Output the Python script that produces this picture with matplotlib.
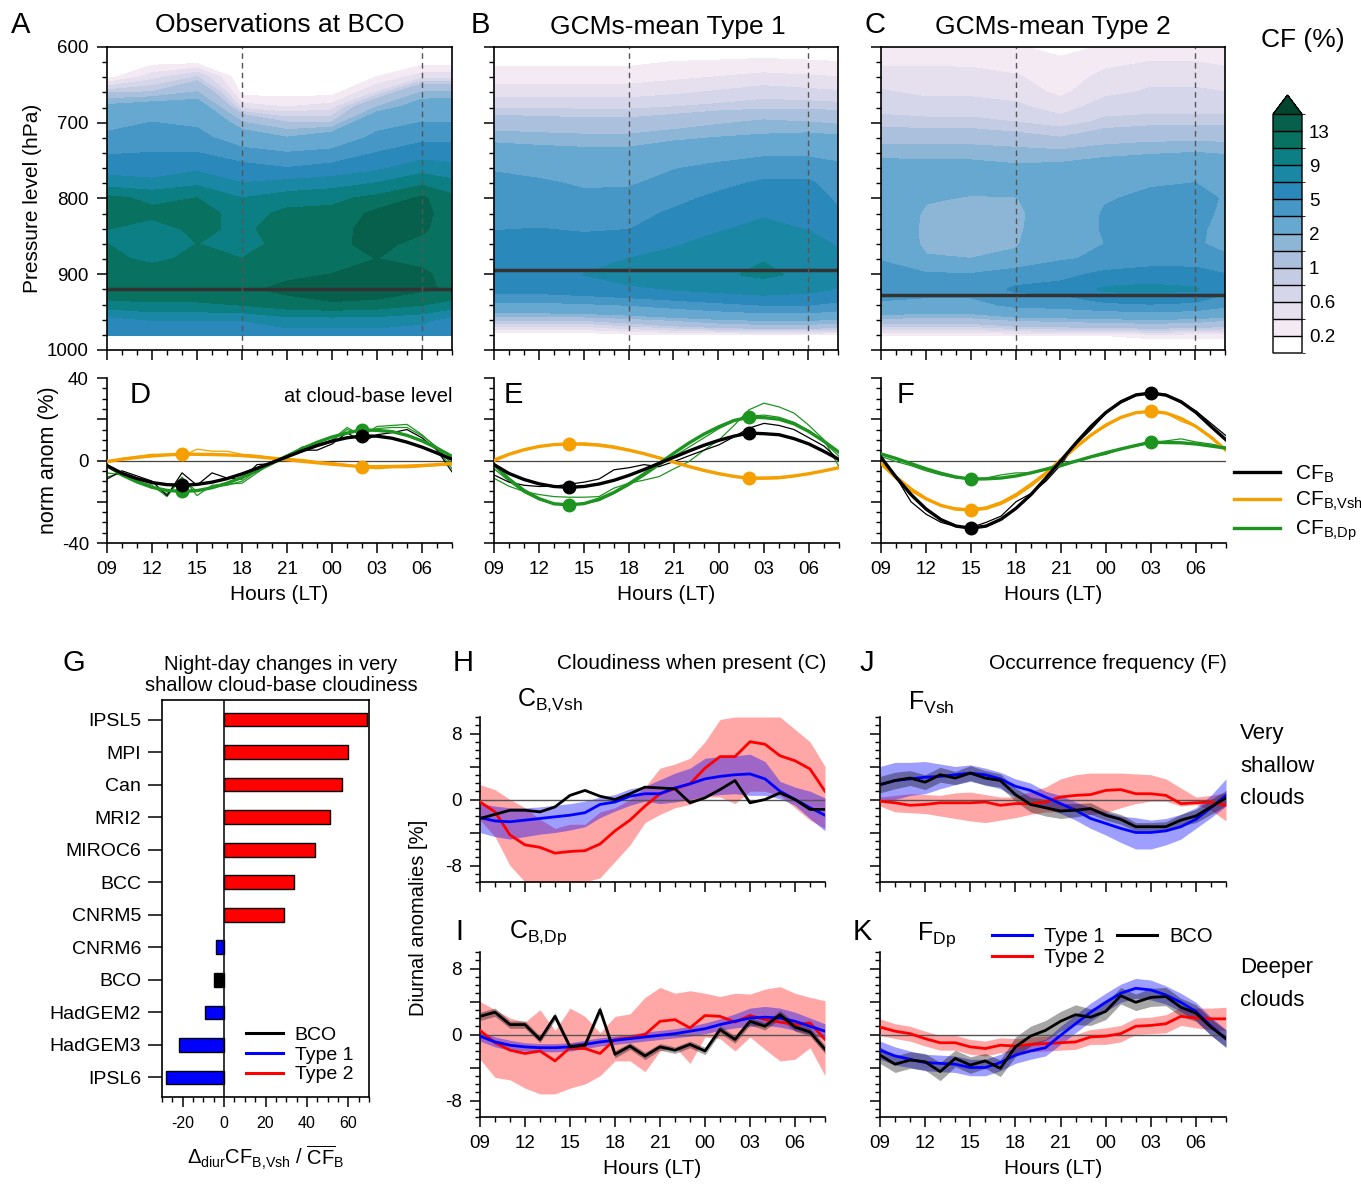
import numpy as np
import matplotlib
matplotlib.use('Agg')
import matplotlib.pyplot as plt
from matplotlib.colors import ListedColormap, BoundaryNorm
from matplotlib.ticker import MultipleLocator
from matplotlib.lines import Line2D

plt.rcParams['font.family'] = ['Liberation Sans', 'DejaVu Sans']
plt.rcParams['mathtext.fontset'] = 'custom'
plt.rcParams['mathtext.rm'] = 'Liberation Sans'
plt.rcParams['mathtext.it'] = 'Liberation Sans:italic'
plt.rcParams['mathtext.default'] = 'regular'
plt.rcParams['axes.unicode_minus'] = False

# ---------------- DATA ----------------
nan = np.nan
hours = [9, 10, 11, 12, 13, 14, 15, 16, 17, 18, 19, 20, 21, 22, 23, 24, 25, 26, 27, 28, 29, 30, 31, 32]
hour_ticks = [9, 12, 15, 18, 21, 24, 27, 30]
hour_labels = ['09', '12', '15', '18', '21', '00', '03', '06']

# contour panels (columns = hours_c, rows = plev)
hours_c = [9, 12, 15, 18, 21, 24, 27, 30, 32]
plev = [600, 620, 640, 660, 680, 700, 720, 740, 760, 780, 800, 820, 840, 860, 880, 900, 920, 940, 960, 980, 1000]
cf_levels = [0, 0.2, 0.4, 0.6, 0.8, 1, 1.5, 2, 3.5, 5, 7, 9, 11, 13, 15]
cf_ticks = [0.2, 0.6, 1, 2, 5, 9, 13]
cf_ticklabels = ['0.2', '0.6', '1', '2', '5', '9', '13']

obs_cols = [
    [0, 0, 0.1, 0.9, 2.2, 3, 3.8, 4.8, 6, 8, 11.5, 11.5, 11, 11, 11.5, 12.3, 12.8, 10, 6, 5, nan],
    [0, 0.1, 0.5, 1.0, 2.5, 3.5, 4.2, 5, 5.8, 7.5, 10.5, 11.5, 10, 9.8, 10.5, 12, 12.8, 10.5, 7, 6, nan],
    [0, 0.1, 0.8, 1.5, 2.5, 3.2, 4, 5, 6.5, 8.5, 11, 12, 11.5, 11, 11.5, 12.3, 12.8, 10.5, 7, 6, nan],
    [0, 0, 0, 0.1, 0.5, 1.5, 2.5, 4, 5.5, 7, 9, 10, 10.5, 9.5, 11, 12, 12.5, 11, 7, 5.5, nan],
    [0, 0, 0, 0.1, 0.4, 1, 2, 3.5, 5, 7.5, 10, 11.5, 12, 12.3, 12, 12.5, 13.5, 12, 8, 6, nan],
    [0, 0, 0, 0.1, 0.5, 1, 2.5, 3.8, 5.5, 8, 10.5, 11.5, 12, 12.3, 12.2, 13, 14.5, 12.5, 8, 6, nan],
    [0, 0, 0.2, 0.6, 1.5, 3, 3.8, 5, 6.5, 9, 11.5, 13.5, 14, 13.8, 13, 13.5, 14.5, 12, 8, 6, nan],
    [0, 0.1, 0.5, 1.5, 2.5, 3.5, 4.5, 6, 8, 10.5, 13.3, 13.8, 13.5, 12, 12.5, 13.3, 13.2, 11, 7.5, 5.5, nan],
    [0, 0.1, 0.5, 1.5, 2.7, 3.5, 4.5, 6, 7.5, 9.5, 11.5, 11.5, 11, 11, 11.5, 12.3, 12.8, 10, 6, 5, nan],
]
type1_cols = [
    [0, 0.15, 0.3, 0.5, 0.75, 1.2, 1.7, 2.5, 3.3, 4, 4.3, 4.7, 4.9, 5.5, 6, 6.5, 5.5, 3, 1, 0, 0],
    [0, 0.15, 0.3, 0.5, 0.75, 1.15, 1.65, 2.3, 3.0, 3.7, 4.2, 4.6, 5, 5.6, 6.2, 6.6, 5.6, 3, 1, 0, 0],
    [0, 0.15, 0.3, 0.5, 0.75, 1.1, 1.6, 2.2, 2.8, 3.3, 3.8, 4.3, 4.8, 5.5, 6.5, 7.0, 6, 3.2, 1, 0, 0],
    [0, 0.15, 0.3, 0.5, 0.75, 1.1, 1.6, 2.2, 2.8, 3.3, 4, 4.5, 4.9, 6, 7, 8, 6.5, 3.5, 1.2, 0.1, 0],
    [0, 0.2, 0.35, 0.55, 0.8, 1.2, 1.8, 2.6, 3.4, 4, 4.6, 5.2, 6, 6.8, 7.5, 8.3, 7, 4, 1.5, 0.1, 0],
    [0, 0.22, 0.4, 0.62, 0.85, 1.4, 2, 2.9, 3.8, 4.6, 5.3, 6, 6.8, 7.5, 8.2, 8.7, 7.5, 4.5, 1.8, 0.1, 0],
    [0, 0.25, 0.45, 0.7, 0.9, 1.6, 2.1, 3.2, 4.2, 5.2, 6, 6.8, 7.4, 8.2, 8.9, 9.3, 8, 5, 2, 0.1, 0],
    [0, 0.22, 0.42, 0.65, 0.9, 1.5, 2.2, 3.2, 4.2, 5.2, 5.8, 6.3, 6.9, 7.6, 8.2, 8.6, 7.5, 5, 2, 0.1, 0],
    [0, 0.2, 0.4, 0.62, 0.88, 1.4, 2.1, 3, 3.8, 4.3, 4.7, 5.2, 6, 6.8, 7.4, 7.8, 6.8, 4.5, 1.8, 0.1, 0],
]
type2_cols = [
    [0.25, 0.35, 0.5, 0.62, 0.7, 0.9, 1.2, 1.8, 2.3, 2.7, 3.0, 3.2, 3.3, 3.3, 3.4, 4.0, 4.2, 3.2, 1.2, 0.2, 0],
    [0.25, 0.35, 0.5, 0.55, 0.7, 0.85, 1.2, 1.8, 2.2, 2.4, 2.1, 1.8, 1.7, 1.75, 2.1, 3.6, 4.0, 3.0, 1.2, 0.2, 0],
    [0.22, 0.35, 0.48, 0.55, 0.7, 0.85, 1.2, 1.8, 2.2, 2.3, 1.9, 1.7, 1.6, 1.7, 2.0, 3.5, 4.0, 3.0, 1.2, 0.2, 0],
    [0.22, 0.3, 0.42, 0.5, 0.65, 0.8, 1.1, 1.7, 2.1, 2.3, 1.95, 1.8, 1.8, 1.9, 2.2, 4.2, 5.2, 3.8, 1.5, 0.2, 0],
    [0.1, 0.25, 0.3, 0.35, 0.5, 0.7, 1.0, 1.6, 2.2, 2.5, 2.6, 2.6, 2.8, 2.8, 3.3, 4.5, 5.5, 4.0, 1.6, 0.2, 0],
    [0.22, 0.35, 0.45, 0.55, 0.7, 0.85, 1.2, 1.8, 2.4, 2.9, 3.4, 3.6, 3.6, 3.5, 3.8, 5.3, 7.3, 4.5, 1.7, 0.2, 0],
    [0.25, 0.4, 0.55, 0.62, 0.7, 0.9, 1.3, 1.9, 2.6, 3.4, 3.7, 3.8, 3.8, 3.6, 4.0, 5.8, 7.5, 4.8, 1.8, 0.25, 0],
    [0.25, 0.4, 0.55, 0.62, 0.7, 0.9, 1.3, 2.0, 2.8, 3.5, 3.8, 3.8, 3.8, 3.7, 4.2, 5.6, 7.2, 4.5, 1.7, 0.25, 0],
    [0.25, 0.35, 0.5, 0.6, 0.7, 0.9, 1.3, 1.9, 2.6, 3.2, 3.4, 3.3, 3.0, 3.0, 3.8, 5.0, 5.5, 3.8, 1.5, 0.25, 0],
]
cloud_base = [920, 895, 927]
day_night_hours = [18, 30]

# D-F: normalized anomalies (fit = thick, raw = thin)
D_cfb_fit = [-2.5, -6.2, -8.8, -10.7, -11.7, -12, -11.6, -10.5, -8.8, -6.5, -3.8, -1, 1.8, 4.6, 7.2, 9.4, 11, 11.9, 11.8, 10.8, 8.9, 6.5, 3.6, 0.6]
D_vsh_fit = [-0.5, 0.6, 1.5, 2.2, 2.7, 3.1, 3.0, 2.9, 2.7, 2.4, 1.8, 1.1, 0.4, -0.4, -1.1, -1.8, -2.4, -3.0, -2.95, -2.9, -2.7, -2.4, -2, -1.5]
D_dp_fit = [-2.5, -7, -10.4, -13, -14.5, -15, -14.6, -13.2, -11, -8.2, -4.9, -1.4, 2.2, 5.7, 8.8, 11.4, 13.3, 14.9, 14.6, 14, 12.2, 9.5, 6, 2]
D_cfb_raw = [-9, -5, -7.5, -10, -17, -6, -12, -6, -8.5, -9, -2, -1.5, 2.5, 5, 5, 8, 13.5, 9, 12.5, 13.5, 15, 11, 5, -5.5]
D_vsh_raw = [-1, 1, 2, 3, 3, 2, 5.5, 4.5, 4.5, 3, 2.5, 1.5, 1, 0.5, -0.5, -1, -2, -3.5, -4, -3.5, -3.5, -3, -2.5, -2]
D_dp_raw = [-8, -6, -10, -12, -17.5, -8, -17, -12, -11.5, -11, -6, -1, 2.5, 6, 7, 10, 16, 12, 16.5, 17, 17.5, 12.5, 6, -4]
D_dp_raw2 = [-6, -7, -10.5, -13, -16, -9, -15, -13, -12, -10, -5, -0.5, 2, 6.5, 8, 9.5, 15, 13, 15.5, 16, 16, 12, 6.5, -2]

E_cfb_fit = [-2, -6.3, -9.2, -11.3, -12.6, -13, -12.6, -11.4, -9.6, -7.2, -4.4, -1.4, 1.6, 4.6, 7.4, 9.8, 11.8, 13.3, 13.0, 12.5, 10.6, 8, 4.4, 0.5]
E_vsh_fit = [0, 3, 5.2, 6.8, 7.7, 8, 7.9, 7.4, 6.4, 5, 3.3, 1.3, -0.8, -2.9, -4.8, -6.4, -7.7, -8.6, -8.5, -8.3, -7.5, -6.4, -5, -3.5]
E_dp_fit = [-2, -9, -14.5, -18.5, -21, -21.5, -20.9, -18.7, -15.5, -11.3, -6.5, -1.5, 3.6, 8.5, 12.8, 16.4, 19.4, 21, 20.8, 20, 17.8, 14, 9.3, 4]
E_cfb_raw = [-7, -10.5, -12, -12.6, -12.5, -11.5, -10.5, -9, -4.5, -3.5, -2, -3, -0.5, 2.3, 5, 7.6, 11.5, 15.7, 18, 17, 15, 11, 7, 0.3]
E_vsh_raw = [0.8, 3.3, 5.5, 7, 7.8, 8.3, 8.5, 8, 7, 5.4, 3.6, 1.5, -1, -3.2, -5.2, -6.8, -8, -9, -9, -8.8, -7.8, -6.6, -5, -3]
E_dp_raw = [-8.6, -12.5, -15, -16.5, -17.5, -17.8, -17.8, -17.5, -13.4, -11, -9.5, -7.8, -4, -0.5, 5, 10, 17, 24.6, 27.8, 26, 23, 17, 10, -3]
E_dp_raw2 = [-4, -10, -15.5, -19, -21, -21.5, -21, -19.5, -16, -12, -7.5, -2.5, 2, 6.5, 11, 15.5, 19, 21.5, 22, 21, 18.5, 14.5, 9, 2]

F_cfb_fit = [1.5, -8, -16.5, -23.5, -28.7, -31.8, -32.8, -31.8, -28.5, -23.2, -16.5, -8.5, 0, 8.5, 16.5, 23.3, 28.5, 31.8, 32.7, 31.7, 28.5, 23.3, 16.5, 10]
F_vsh_fit = [-1.5, -8, -13.8, -18.5, -21.8, -23.6, -24, -23.2, -20.8, -17, -12, -6.2, 0.2, 6.5, 12.3, 17.2, 20.9, 23.2, 23.8, 23, 20.4, 16.5, 11.3, 5]
F_dp_fit = [3.2, 1, -1.5, -4, -6.2, -8, -9, -8.9, -8.5, -7.5, -6, -4.2, -2.3, -0.3, 1.8, 3.8, 5.6, 7.3, 8.9, 8.7, 8.6, 8, 7, 6]
F_cfb_raw = [2, -8, -20, -26, -30, -32, -32.5, -30, -27, -20, -16, -10, -2, 8, 15, 23, 28, 31.5, 33, 32, 28, 24, 18, 12]
F_vsh_raw = [-2, -9, -15, -19, -22, -23, -23.5, -22.5, -20, -16, -11, -5.5, 1, 7, 12.5, 16.5, 21, 23, 24, 23, 19, 16.5, 11, 5]
F_dp_raw = [2, -0.5, -2.5, -5, -7, -8.5, -9, -8.5, -7, -6, -6, -4.5, -3, -0.5, 1.5, 3, 5.5, 7, 8.5, 9.5, 10.5, 9, 8, 6.5]

# G: night-day changes
G_models = ['IPSL5', 'MPI', 'Can', 'MRI2', 'MIROC6', 'BCC', 'CNRM5', 'CNRM6', 'BCO', 'HadGEM2', 'HadGEM3', 'IPSL6']
G_values = [69, 60, 57, 51, 44, 34, 29, -4, -5, -9, -22, -28]
G_groups = ['Type 2', 'Type 2', 'Type 2', 'Type 2', 'Type 2', 'Type 2', 'Type 2', 'Type 1', 'BCO', 'Type 1', 'Type 1', 'Type 1']

# H: C_B,Vsh
H_bco = [-2.3, -1.8, -1.3, -1.3, -1.5, -0.9, 0.5, 1.1, 0.4, 0, 0.7, 1.5, 1.4, 1.3, -0.4, 0.2, 1.2, 2.3, -0.4, 0, 0.8, 0, -1.2, -1.2]
H_t1 = [-2.2, -2.6, -2.7, -2.5, -2.3, -2.1, -1.9, -1.6, -0.6, -0.3, 0.4, 0.7, 0.7, 1.4, 1.9, 2.5, 2.8, 3, 3.1, 2.5, 1.0, 0, -1, -1.9]
H_t1_lo = [-4, -4.5, -4.8, -4.5, -4.2, -4, -3.7, -3.3, -2.2, -1.4, -0.7, -0.2, -0.5, -0.3, 0, 0.4, 0.6, 0.7, 0.5, 0.5, 0.1, -0.7, -2.3, -3.8]
H_t1_hi = [-0.5, -0.8, -1, -1, -0.9, -0.7, -0.5, -0.2, 0.3, 0.6, 1.3, 1.6, 2.4, 3.2, 3.8, 5, 5.2, 5.3, 5.5, 4.6, 2.2, 1.5, 1, 0.2]
H_t2 = [-0.3, -1.5, -4.3, -5.5, -5.8, -6.5, -6.3, -6.2, -5.4, -3.8, -2.5, -0.8, 0.7, 1.3, 1.9, 3.8, 5.2, 5.2, 7, 6.7, 5.3, 4.7, 3.7, 1]
H_t2_lo = [-2.5, -4.5, -8, -10, -10, -10, -10, -10, -9.5, -7.5, -5.5, -2.8, -1.8, -1, -0.6, 0.3, 0.3, -0.5, 1, 1, 0.5, -1, -2.5, -3.5]
H_t2_hi = [1.8, 1.2, 0, -1, -2.4, -3.5, -3, -3, -1.5, -1, 0, 1.5, 3.8, 4.3, 5, 7, 9.7, 10, 10, 10, 10, 8.5, 7, 4]

# I: C_B,Dp
I_bco = [2.2, 2.7, 1.2, 1.2, -0.6, 2.2, -1.5, -1.3, 3, -2.4, -1.4, -2.6, -1.5, -1.9, -1.2, -2, 0.6, -0.6, 1.6, 1, 2.4, 0.9, 0.3, -1.8]
I_bco_err = [0.5, 0.5, 0.45, 0.45, 0.4, 0.45, 0.4, 0.4, 0.45, 0.45, 0.4, 0.45, 0.4, 0.4, 0.4, 0.45, 0.45, 0.45, 0.45, 0.45, 0.5, 0.5, 0.5, 0.5]
I_t1 = [-0.2, -0.9, -1.3, -1.5, -1.6, -1.6, -1.5, -1.2, -0.9, -0.7, -0.5, -0.3, -0.1, 0.1, 0.4, 0.7, 1.2, 1.6, 2, 2.1, 2, 1.6, 1, 0.4]
I_t1_lo = [-0.8, -1.5, -1.9, -2, -2.1, -2.1, -2, -1.7, -1.4, -1.2, -1, -0.8, -0.6, -0.4, -0.2, 0.1, 0.5, 0.8, 1, 1.1, 0.9, 0.5, 0, -0.5]
I_t1_hi = [0.4, -0.3, -0.7, -1, -1.1, -1.1, -1, -0.7, -0.4, -0.2, 0, 0.3, 0.5, 0.7, 1, 1.4, 1.9, 2.5, 3.2, 3.4, 3.2, 2.7, 2, 1.3]
I_t2 = [0.5, -1, -1.9, -2.3, -2, -3.2, -1.6, -1.7, -2.3, -0.6, -0.4, 0, 1.6, 1.8, 0.8, 2.3, 2.2, 1.5, 2.3, 1.8, 1.5, 1.2, 1.4, -0.6]
I_t2_lo = [-3, -5.2, -5.5, -6.5, -7.2, -7.2, -6.5, -6, -5, -3.2, -3.2, -4.5, -2, -1.5, -3.5, -0.3, -0.5, -2, -0.3, -1.8, -3.2, -3, -1.6, -5]
I_t2_hi = [4, 3, 2, 1.5, 3, 0.5, 3.2, 2.2, 0.2, 2.2, 2.5, 4.5, 5.7, 5, 5.3, 5, 4.6, 5, 4.9, 5.5, 5.8, 5, 4.5, 4.1]

# J: F_Vsh
J_bco = [1.8, 2.3, 2.6, 2.1, 3, 2.6, 3.2, 2.6, 2.3, 0.6, -0.6, -1, -1.4, -1.3, -1.1, -1.9, -2.4, -3.3, -3.3, -3.3, -2.5, -2, -0.9, 0.2]
J_bco_err = [1.0, 1.0, 0.9, 0.9, 0.9, 0.8, 0.9, 0.9, 0.8, 0.8, 0.9, 1.0, 0.9, 0.8, 0.7, 0.6, 0.6, 0.5, 0.5, 0.6, 0.7, 0.8, 0.9, 0.9]
J_t1 = [1.8, 2.3, 2.5, 2.7, 2.8, 3, 3.2, 3, 2.5, 1.6, 1.1, 0.3, -0.5, -1.3, -2.3, -2.9, -3.5, -4, -4, -3.8, -3.3, -2.4, -1, 0.5]
J_t1_lo = [-0.2, 0, 0.5, 0.7, 1.3, 1.8, 2.2, 1.8, 1.3, 0.3, -0.3, -1, -1.7, -2.5, -3.5, -4.3, -5.2, -6, -6, -5.5, -4.8, -3.5, -2.2, -0.8]
J_t1_hi = [4, 4.5, 4.5, 4.6, 4.3, 4, 4.2, 3.8, 3.3, 2.5, 2, 1, 0.5, -0.3, -1, -1.5, -2, -2.2, -2.5, -2.3, -1.8, -1, 0.5, 2.5]
J_t2 = [-0.2, -0.4, -0.7, -0.6, -0.4, -0.4, -0.4, -0.3, -0.7, -0.5, -0.5, -0.3, 0.3, 0.5, 0.6, 1.1, 1.2, 0.7, 0.7, 0.5, -0.5, -0.4, -0.3, -0.7]
J_t2_lo = [-0.8, -1.5, -1.6, -1.7, -2, -2.3, -2.6, -2.8, -2.5, -2.2, -1.8, -1.5, -1.5, -1.2, -1.8, -1.6, -1, -0.5, -0.2, -0.2, -0.8, -0.6, -1.3, -2.6]
J_t2_hi = [0.3, 0.5, 0.7, 0.6, 0.5, 0.8, 0.9, 0.6, 0.3, 0.3, 1, 1.5, 2.5, 3, 3.2, 3.2, 3.2, 3.1, 3, 2.5, 1.4, 0.3, 0.5, 0.8]

# K: F_Dp
K_bco = [-2.5, -3.6, -3.1, -3.3, -4.5, -2.9, -3.7, -3.2, -4.1, -1.5, -0.2, 0.5, 1.6, 2.4, 2.1, 2.8, 4.7, 3.9, 4.5, 4.6, 3.3, 2.6, 0.9, -0.5]
K_bco_err = [1, 1, 1, 1, 1.1, 1, 1, 0.9, 1, 1.2, 1.2, 1.2, 1.2, 1.2, 1, 1, 1, 1, 1.1, 1.1, 1.1, 1, 1, 1]
K_t1 = [-1.9, -2.6, -3, -3.4, -3.5, -3.6, -4, -4, -3.4, -2.5, -2, -1.6, -0.1, 1.3, 2.7, 3.9, 5, 5.6, 5.4, 4.8, 3.9, 2.8, 1, -0.5]
K_t1_err = [1.1, 1.1, 1, 1, 1, 1, 1, 1, 1, 1, 1, 1, 1.1, 1.1, 1.1, 1.1, 1.1, 1.2, 1.2, 1.1, 1.1, 1.1, 1.1, 1.1]
K_t2 = [0.9, 0.4, 0.1, -0.5, -1, -1, -1.5, -1.7, -1.3, -1.4, -1.2, -1.1, -1, -0.9, -0.3, -0.2, 0.1, 1, 1.1, 1.3, 2.2, 2, 1.9, 1.9]
K_t2_err = [1, 0.9, 0.9, 0.9, 0.9, 0.9, 0.9, 0.9, 0.9, 0.9, 0.9, 0.9, 0.9, 0.9, 0.9, 1, 1, 1, 1, 1.1, 1.1, 1.2, 1.3, 1.4]

# ---------------- STYLE ----------------
W, H = 1361, 1186
fig = plt.figure(figsize=(W / 100, H / 100), dpi=100)

def ax_px(l, t, r, b):
    return fig.add_axes([l / W, 1 - b / H, (r - l) / W, (b - t) / H])

def ftext(x, y, s, **kw):
    return fig.text(x / W, 1 - y / H, s, **kw)

cf_colors = ['#ffffff', '#f3eaf3', '#e6dfee', '#d6d6ea', '#c4cce4', '#abc0dc', '#8db5d6',
             '#67a8d0', '#4697c6', '#2b88bb', '#1a88a4', '#0c7f84', '#08715f', '#06604c']
cmap = ListedColormap(cf_colors)
cmap.set_over('#03452f')
norm = BoundaryNorm(cf_levels, cmap.N)

ORANGE = '#f5a000'
GREEN = '#1e9420'
BLUE = '#0000ff'
RED = '#ff0000'

def hour_axis(ax, labels):
    ax.set_xlim(9, 32)
    ax.set_xticks(hour_ticks)
    ax.xaxis.set_minor_locator(MultipleLocator(1))
    if labels:
        ax.set_xticklabels(hour_labels)
    else:
        ax.set_xticklabels([])
    ax.tick_params(axis='both', which='major', direction='out', length=7, width=1.1, labelsize=13.5, pad=6)
    ax.tick_params(axis='both', which='minor', direction='out', length=3.5, width=1)

# ---------------- A-C contour panels ----------------
contour_data = [obs_cols, type1_cols, type2_cols]
cont_pos = [(107, 47, 452, 350), (494, 47, 838, 350), (881, 47, 1225, 350)]
cs = None
for i, (cols, pos) in enumerate(zip(contour_data, cont_pos)):
    ax = ax_px(*pos)
    Z = np.array(cols, dtype=float).T
    cs = ax.contourf(hours_c, plev, Z, levels=cf_levels, cmap=cmap, norm=norm, extend='max')
    cs.set_edgecolor('face')
    ax.set_ylim(1000, 600)
    hour_axis(ax, False)
    ax.set_yticks([600, 700, 800, 900, 1000])
    ax.yaxis.set_minor_locator(MultipleLocator(20))
    if i == 0:
        ax.set_yticklabels(['600', '700', '800', '900', '1000'])
        ax.set_ylabel('Pressure level (hPa)', fontsize=15, labelpad=4)
    else:
        ax.set_yticklabels([])
    ax.axhline(cloud_base[i], color='#333333', lw=2.5)
    for hx in day_night_hours:
        ax.axvline(hx, color='#555555', lw=1, ls=(0, (4, 3)))
    for s in ax.spines.values():
        s.set_linewidth(1.2)

cax = ax_px(1273, 95, 1302, 353)
cb = fig.colorbar(cs, cax=cax, extend='max', extendfrac=0.08, drawedges=True, ticks=cf_ticks)
cb.ax.set_yticklabels(cf_ticklabels)
cb.ax.tick_params(length=0, labelsize=13.5, pad=5)
cb.outline.set_linewidth(1)
cb.dividers.set_linewidth(1)

ftext(11, 25, 'A', fontsize=21, va='center')
ftext(471, 25, 'B', fontsize=21, va='center')
ftext(864, 25, 'C', fontsize=21, va='center')
ftext(280, 25, 'Observations at BCO', fontsize=19, ha='center', va='center')
ftext(668, 27, 'GCMs-mean Type 1', fontsize=19, ha='center', va='center')
ftext(1053, 27, 'GCMs-mean Type 2', fontsize=19, ha='center', va='center')
ftext(1303, 40, 'CF (%)', fontsize=19, ha='center', va='center')

# ---------------- D-F line panels ----------------
line_sets = [
    (D_cfb_fit, D_vsh_fit, D_dp_fit, [D_cfb_raw], [D_vsh_raw], [D_dp_raw, D_dp_raw2]),
    (E_cfb_fit, E_vsh_fit, E_dp_fit, [E_cfb_raw], [E_vsh_raw], [E_dp_raw, E_dp_raw2]),
    (F_cfb_fit, F_vsh_fit, F_dp_fit, [F_cfb_raw], [F_vsh_raw], [F_dp_raw]),
]
line_pos = [(107, 378, 452, 543), (494, 378, 839, 543), (881, 378, 1226, 543)]
axF = None
for i, (sets, pos) in enumerate(zip(line_sets, line_pos)):
    ax = ax_px(*pos)
    cfb, vsh, dp, cfb_raw, vsh_raw, dp_raw = sets
    ax.axhline(0, color='#444444', lw=0.9, zorder=1)
    for r in vsh_raw:
        ax.plot(hours, r, color=ORANGE, lw=0.9, zorder=2)
    for r in dp_raw:
        ax.plot(hours, r, color=GREEN, lw=0.9, zorder=2)
    for r in cfb_raw:
        ax.plot(hours, r, color='black', lw=0.9, zorder=2)
    for fit, col in [(vsh, ORANGE), (dp, GREEN), (cfb, 'black')]:
        ax.plot(hours, fit, color=col, lw=2.4, zorder=3)
        arr = np.array(fit)
        for k in (int(np.argmin(arr)), int(np.argmax(arr))):
            ax.plot(hours[k], fit[k], 'o', color=col, ms=9, zorder=4)
    ax.set_ylim(-40, 40)
    hour_axis(ax, True)
    ax.set_yticks([-40, -20, 0, 20, 40])
    ax.yaxis.set_minor_locator(MultipleLocator(5))
    if i == 0:
        ax.set_yticklabels(['-40', '', '0', '', '40'])
        ax.set_ylabel('norm anom (%)', fontsize=15.5, labelpad=2)
    else:
        ax.set_yticklabels([])
    ax.set_xlabel('Hours (LT)', fontsize=15, labelpad=5)
    ax.spines['top'].set_visible(False)
    ax.spines['right'].set_visible(False)
    for s in ('left', 'bottom'):
        ax.spines[s].set_linewidth(1.2)
    if i == 2:
        axF = ax

hF = [Line2D([], [], color='black', lw=2.4), Line2D([], [], color=ORANGE, lw=2.4), Line2D([], [], color=GREEN, lw=2.4)]
axF.legend(hF, [r'CF$_{B}$', r'CF$_{B{,}Vsh}$', r'CF$_{B{,}Dp}$'], loc='center left', bbox_to_anchor=(1.0, 0.24),
           frameon=False, fontsize=15, handlelength=2.2, handletextpad=0.7, labelspacing=0.25, borderaxespad=0)

ftext(130, 395, 'D', fontsize=21, va='center')
ftext(504, 395, 'E', fontsize=21, va='center')
ftext(897, 395, 'F', fontsize=21, va='center')
ftext(453, 397, 'at cloud-base level', fontsize=14.5, ha='right', va='center')

# ---------------- G bar panel ----------------
axG = ax_px(162, 700, 369, 1097)
group_color = {'Type 2': RED, 'Type 1': BLUE, 'BCO': 'black'}
ypos = np.arange(len(G_models))[::-1]
axG.barh(ypos, G_values, height=0.42, color=[group_color[g] for g in G_groups], edgecolor='black', lw=1, zorder=3)
axG.axvline(0, color='black', lw=1.1, zorder=4)
axG.set_xlim(-30, 70)
axG.set_ylim(-0.6, len(G_models) - 0.4)
axG.set_yticks(ypos)
axG.set_yticklabels(G_models)
axG.set_xticks([-20, 0, 20, 40, 60])
axG.xaxis.set_minor_locator(MultipleLocator(5))
axG.tick_params(axis='y', which='major', direction='out', length=10, width=1.1, labelsize=14, pad=5)
axG.tick_params(axis='x', which='major', direction='out', length=7, width=1.1, labelsize=11.5, pad=7)
axG.tick_params(axis='x', which='minor', direction='out', length=3.5, width=1)
axG.set_xlabel(r'$\Delta_{diur}CF_{B{,}Vsh}\ /\ \overline{CF}_{B}$', fontsize=14.5, labelpad=9)
for s in axG.spines.values():
    s.set_linewidth(1.2)
hG = [Line2D([], [], color='black', lw=2.2), Line2D([], [], color=BLUE, lw=2.2), Line2D([], [], color=RED, lw=2.2)]
axG.legend(hG, ['BCO', 'Type 1', 'Type 2'], loc='lower right', bbox_to_anchor=(0.99, 0.0), frameon=False,
           fontsize=14, handlelength=1.9, handletextpad=0.6, labelspacing=0.1, borderaxespad=0.3)
ftext(63, 663, 'G', fontsize=21, va='center')
ftext(281, 675, 'Night-day changes in very\nshallow cloud-base cloudiness', fontsize=14.5, ha='center',
      va='center', linespacing=1.1)

# ---------------- H-K panels ----------------
def anomaly_panel(pos, bco, bco_lo, bco_hi, t1, t1_lo, t1_hi, t2, t2_lo, t2_hi, ylab, xlab):
    ax = ax_px(*pos)
    ax.fill_between(hours, t2_lo, t2_hi, color=RED, alpha=0.35, lw=0, zorder=1)
    ax.fill_between(hours, t1_lo, t1_hi, color=BLUE, alpha=0.38, lw=0, zorder=2)
    if bco_lo is not None:
        ax.fill_between(hours, bco_lo, bco_hi, color='black', alpha=0.35, lw=0, zorder=3)
    ax.axhline(0, color='#555555', lw=1, zorder=4)
    ax.plot(hours, t2, color=RED, lw=2, zorder=5)
    ax.plot(hours, t1, color=BLUE, lw=2, zorder=6)
    ax.plot(hours, bco, color='black', lw=2, zorder=7)
    ax.set_ylim(-10, 10)
    hour_axis(ax, xlab)
    ax.set_yticks([-8, -4, 0, 4, 8])
    ax.yaxis.set_minor_locator(MultipleLocator(1))
    if ylab:
        ax.set_yticklabels(['-8', '', '0', '', '8'])
    else:
        ax.set_yticklabels([])
    if xlab:
        ax.set_xlabel('Hours (LT)', fontsize=15, labelpad=5)
    ax.spines['top'].set_visible(False)
    ax.spines['right'].set_visible(False)
    for s in ('left', 'bottom'):
        ax.spines[s].set_linewidth(1.2)
    return ax

def band(v, e, sign):
    return [a + sign * b for a, b in zip(v, e)]

axH = anomaly_panel((480, 717, 825, 882), H_bco, None, None, H_t1, H_t1_lo, H_t1_hi, H_t2, H_t2_lo, H_t2_hi, True, False)
axI = anomaly_panel((480, 952, 825, 1117), I_bco, band(I_bco, I_bco_err, -1), band(I_bco, I_bco_err, 1),
                    I_t1, I_t1_lo, I_t1_hi, I_t2, I_t2_lo, I_t2_hi, True, True)
axJ = anomaly_panel((880, 717, 1226, 882), J_bco, band(J_bco, J_bco_err, -1), band(J_bco, J_bco_err, 1),
                    J_t1, J_t1_lo, J_t1_hi, J_t2, J_t2_lo, J_t2_hi, False, False)
axK = anomaly_panel((880, 952, 1226, 1117), K_bco, band(K_bco, K_bco_err, -1), band(K_bco, K_bco_err, 1),
                    K_t1, band(K_t1, K_t1_err, -1), band(K_t1, K_t1_err, 1),
                    K_t2, band(K_t2, K_t2_err, -1), band(K_t2, K_t2_err, 1), False, True)

hK = [Line2D([], [], color=BLUE, lw=2.2), Line2D([], [], color=RED, lw=2.2), Line2D([], [], color='black', lw=2.2)]
axK.legend(hK, ['Type 1', 'Type 2', 'BCO'], ncol=2, loc='lower left', bbox_to_anchor=(0.30, 0.86), frameon=False,
           fontsize=14.5, handlelength=2.0, labelspacing=0.1, columnspacing=0.6, borderaxespad=0, handletextpad=0.6)

ftext(418, 918, 'Diurnal anomalies [%]', fontsize=14.5, rotation=90, ha='center', va='center')
ftext(453, 663, 'H', fontsize=21, va='center')
ftext(455, 932, 'I', fontsize=21, va='center')
ftext(860, 663, 'J', fontsize=21, va='center')
ftext(853, 932, 'K', fontsize=21, va='center')
ftext(692, 664, 'Cloudiness when present (C)', fontsize=15, ha='center', va='center')
ftext(1108, 664, 'Occurrence frequency (F)', fontsize=15, ha='center', va='center')
ftext(517, 700, r'C$_{B{,}Vsh}$', fontsize=18, va='center')
ftext(509, 933, r'C$_{B{,}Dp}$', fontsize=18, va='center')
ftext(908, 703, r'F$_{Vsh}$', fontsize=18, va='center')
ftext(917, 935, r'F$_{Dp}$', fontsize=18, va='center')
ftext(1240, 766, 'Very\nshallow\nclouds', fontsize=16, ha='left', va='center', linespacing=1.75)
ftext(1240, 984, 'Deeper\nclouds', fontsize=16, ha='left', va='center', linespacing=1.75)

fig.savefig('out.png', dpi=100)
